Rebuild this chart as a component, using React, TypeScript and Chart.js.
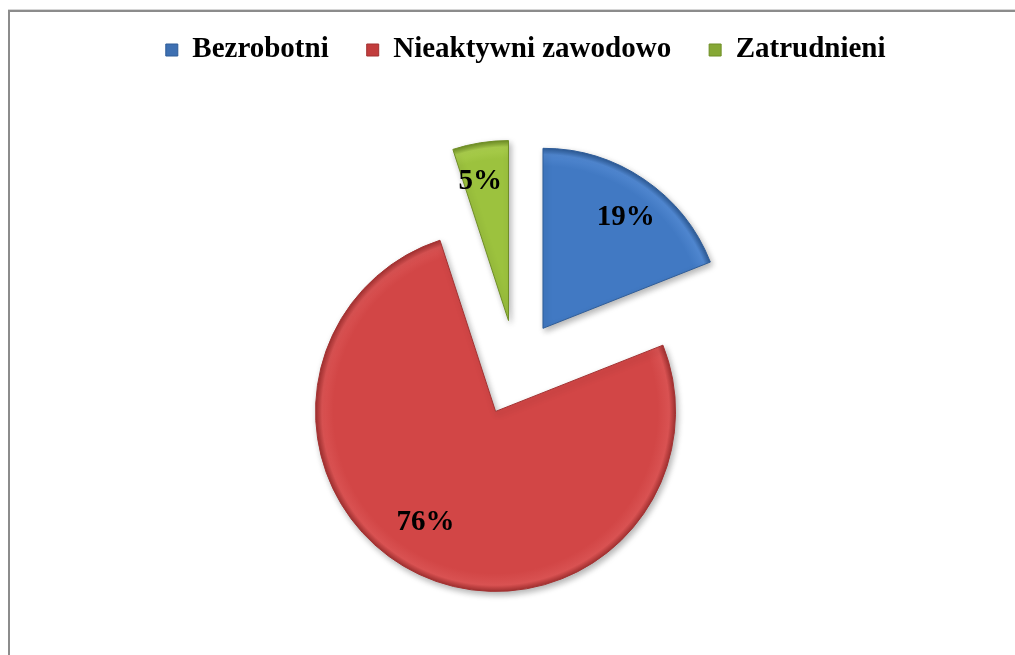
import React, { useEffect, useRef } from 'react';
import { Chart, registerables } from 'chart.js';

Chart.register(...registerables);

// ---- data ----
const categories = ['Bezrobotni', 'Nieaktywni zawodowo', 'Zatrudnieni'];
const values = [19, 76, 5];

// ---- styles ----
const baseColors = ['#4179c3', '#d24646', '#9cc23e'];
const lightColors = ['#4f86cf', '#d95252', '#a9cd4c'];
const darkColors = ['#2e5c98', '#a33131', '#6f8e26'];
const legendColors = ['#3e70b2', '#c23d3d', '#86a836'];

const EXPLODE = 48;
const RADIUS = 180;
const LABEL_RADIUS = [0.77, 0.73, 0.79];
const LABEL_ANGLE_SHIFT = [2.5, 7, -2.5];
const FONT_FAMILY = '"Liberation Serif", "Times New Roman", serif';

const explodePlugin = {
  id: 'explodeSlices',
  beforeDatasetDraw(chart: any, args: any) {
    const ctx = chart.ctx;
    args.meta.data.forEach((arc: any) => {
      const mid = (arc.startAngle + arc.endAngle) / 2;
      ctx.save();
      ctx.translate(Math.cos(mid) * EXPLODE, Math.sin(mid) * EXPLODE);
      ctx.shadowColor = 'rgba(0,0,0,0.3)';
      ctx.shadowBlur = 6;
      ctx.shadowOffsetX = 2;
      ctx.shadowOffsetY = 3;
      arc.draw(ctx);
      ctx.restore();
    });
    return false;
  },
  afterDatasetsDraw(chart: any) {
    const ctx = chart.ctx;
    const meta = chart.getDatasetMeta(0);
    ctx.save();
    ctx.font = `bold 29px ${FONT_FAMILY}`;
    ctx.fillStyle = '#000';
    ctx.textAlign = 'center';
    ctx.textBaseline = 'middle';
    meta.data.forEach((arc: any, i: number) => {
      const bis = (arc.startAngle + arc.endAngle) / 2;
      const ang = bis + (LABEL_ANGLE_SHIFT[i] * Math.PI) / 180;
      const r = arc.outerRadius * LABEL_RADIUS[i];
      const x = arc.x + Math.cos(bis) * EXPLODE + Math.cos(ang) * r;
      const y = arc.y + Math.sin(bis) * EXPLODE + Math.sin(ang) * r;
      ctx.fillText(`${values[i]}%`, x, y);
    });
    ctx.restore();
  },
};

export default function App() {
  const ref = useRef<HTMLCanvasElement | null>(null);

  useEffect(() => {
    if (!ref.current) return;
    const chart = new Chart(ref.current, {
      type: 'pie',
      data: {
        labels: categories,
        datasets: [
          {
            data: values,
            backgroundColor: (c: any) => {
              const i = c.dataIndex ?? 0;
              const area = c.chart.chartArea;
              if (!area) return baseColors[i];
              const cx = (area.left + area.right) / 2;
              const cy = (area.top + area.bottom) / 2;
              const g = c.chart.ctx.createRadialGradient(cx, cy, 0, cx, cy, RADIUS);
              g.addColorStop(0, baseColors[i]);
              g.addColorStop(0.9, baseColors[i]);
              g.addColorStop(0.965, lightColors[i]);
              g.addColorStop(1, darkColors[i]);
              return g;
            },
            borderColor: darkColors,
            borderWidth: 1,
            offset: 0,
          } as any,
        ],
      },
      options: {
        animation: false,
        responsive: false,
        radius: RADIUS,
        layout: { padding: { top: -10.5, left: 100.5, right: 91.5, bottom: 6.5 } },
        plugins: {
          legend: {
            position: 'top',
            align: 'end',
            labels: {
              boxWidth: 12,
              boxHeight: 12,
              padding: 38,
              color: '#000',
              font: { family: FONT_FAMILY, size: 29, weight: 'bold' },
              generateLabels: () =>
                categories.map((t, i) => ({
                  text: t,
                  fillStyle: legendColors[i],
                  strokeStyle: darkColors[i],
                  lineWidth: 1,
                  hidden: false,
                  index: i,
                  fontColor: '#000',
                })),
            },
          },
          tooltip: { enabled: false },
        },
      } as any,
      plugins: [explodePlugin as any],
    });
    return () => chart.destroy();
  }, []);

  return (
    <div
      style={{
        position: 'relative',
        width: 999,
        height: 639,
        overflow: 'hidden',
        background: '#fff',
      }}
    >
      <canvas
        ref={ref}
        width={1007}
        height={660}
        style={{ position: 'absolute', left: 0, top: 0, width: 1007, height: 660 }}
      />
      <div
        style={{
          position: 'fixed',
          left: 8,
          top: 10,
          width: 1100,
          height: 800,
          borderTop: '2px solid #8c8c8c',
          borderLeft: '2px solid #8c8c8c',
          boxShadow: '0 -1px 0 #d6d6d6',
          pointerEvents: 'none',
        }}
      />
    </div>
  );
}
